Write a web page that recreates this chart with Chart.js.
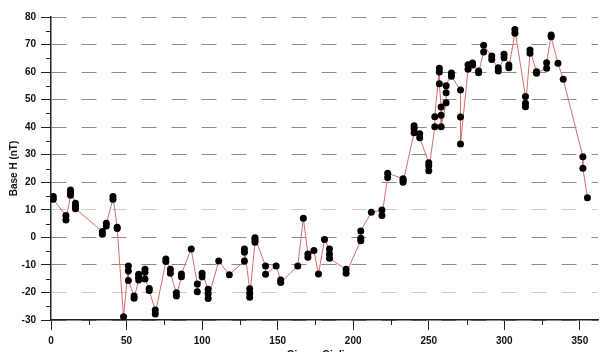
<!DOCTYPE html>
<html>
<head>
<meta charset="utf-8">
<script src="https://cdn.jsdelivr.net/npm/chart.js@4/dist/chart.umd.min.js"></script>
<style>
  html, body { margin: 0; padding: 0; background: #fff; overflow: hidden; }
  canvas { display: block; }
</style>
</head>
<body>
<canvas id="grafico" width="602" height="362"></canvas>
<script>
// giorno giuliano e valori di base H (nT)
const giorni = [
  1.5, 1.5, 9.9, 9.9, 12.9, 12.9, 12.9, 16.2, 16.2, 16.2,
  34, 34, 36.6, 36.6, 41, 41, 43.8, 43.8, 48,
  51.2, 51.2, 51.2, 55, 55, 58, 58, 58, 62.2, 62.2, 62.2,
  65, 65, 69, 69, 76, 76, 79, 79, 83, 83, 86.3, 86.3,
  92.8, 96.8, 96.8, 100, 100, 104, 104, 104, 111, 118,
  128, 128, 128, 131.5, 131.5, 131.5, 135, 135, 135,
  142, 142, 149, 152, 152, 163.3, 167, 170, 170, 174, 177, 181,
  184.3, 184.3, 184.3, 195.3, 195.3, 205, 205, 205, 212,
  219, 219, 222.8, 222.8, 233, 233, 233,
  240.3, 240.3, 240.3, 244, 244, 250, 250, 250, 254, 254,
  257, 257, 257, 258.2, 258.2, 258.2, 261.5, 261.5, 261.5,
  265, 265, 271, 271, 271, 276, 276, 279, 279, 283, 283,
  286.3, 286.3, 291.7, 291.7, 296, 296, 299.8, 299.8, 303, 303,
  307, 307, 314, 314, 314, 317, 317, 321.3, 321.3, 328, 328,
  331, 331, 335.5, 339, 352, 352, 355
];
const baseH = [
  14.8, 13.8, 7.9, 6.3, 15.3, 16.2, 17.2, 12.4, 11.4, 10.4,
  2.1, 1.1, 4.1, 5.1, 13.8, 14.8, 3.7, 3.2, -28.8,
  -10.4, -12.2, -15.7, -21.3, -22.1, -15.5, -14.5, -13.4, -11.6, -12.7, -15.1,
  -18.6, -19.3, -26.4, -27.8, -8.8, -7.9, -11.6, -13, -20.1, -21.3, -14.3, -13.3,
  -4.2, -16.9, -19.7, -14.3, -13, -18.8, -20.5, -22.2, -8.6, -13.6,
  -8.6, -5.4, -4.2, -18.7, -20.3, -21.7, -1.8, -0.9, -0.1,
  -10.4, -13.4, -10.4, -15.5, -16.4, -10.4, 6.9, -6, -7.2, -4.8, -13.3, -0.8,
  -4.2, -6, -7.6, -11.6, -13, -1.2, -0.3, 2.3, 9.1,
  9.9, 7.9, 21.7, 23.3, 21.3, 20.7, 20,
  38, 39.6, 40.5, 37.6, 36.2, 27.1, 26, 24.2, 40.2, 43.8,
  61.4, 60, 55.8, 47.3, 44.3, 40.2, 48.9, 52.5, 55,
  59.7, 58.5, 53.5, 43.7, 33.9, 61, 62.7, 63.3, 62.6, 60.4, 59.8,
  67.3, 69.7, 65.8, 64.6, 61.6, 60.4, 65.2, 66.5, 62.6, 61.6,
  74.1, 75.5, 51.1, 48.7, 47.4, 66.8, 68, 60.1, 59.6, 61.4, 63.4,
  73.5, 72.8, 63.2, 57.4, 29.3, 25.1, 14.4
];

// etichette degli assi
const xTicks = [0, 50, 100, 150, 200, 250, 300, 350];
const xMinor = [25, 75, 125, 175, 225, 275, 325];
const yTicks = [-30, -20, -10, 0, 10, 20, 30, 40, 50, 60, 70, 80];
const yMinor = [-25, -15, -5, 5, 15, 25, 35, 45, 55, 65, 75];
const griglieChiare = [10, -20];

const punti = giorni.map((g, i) => ({ x: g, y: baseH[i] }));

// tacche secondarie (più corte) sugli assi
const tacchePlugin = {
  id: 'tacche',
  afterDraw(chart) {
    const { ctx, scales: { x, y } } = chart;
    ctx.save();
    ctx.strokeStyle = '#222';
    ctx.lineWidth = 1;
    ctx.beginPath();
    xMinor.forEach(v => {
      const px = Math.round(x.getPixelForValue(v)) + 0.5;
      ctx.moveTo(px, y.bottom);
      ctx.lineTo(px, y.bottom + 5);
    });
    yMinor.forEach(v => {
      const py = Math.round(y.getPixelForValue(v)) + 0.5;
      ctx.moveTo(x.left - 5, py);
      ctx.lineTo(x.left, py);
    });
    ctx.stroke();
    ctx.restore();
  }
};

const fontEtichette = { family: '"Liberation Sans", Arial, sans-serif', size: 10, weight: 'bold' };

new Chart(document.getElementById('grafico').getContext('2d'), {
  type: 'scatter',
  data: {
    datasets: [{
      data: punti,
      showLine: true,
      borderColor: '#dc6a6a',
      borderWidth: 1,
      tension: 0,
      pointRadius: 3.5,
      pointBackgroundColor: '#000',
      pointBorderColor: '#000',
      pointBorderWidth: 0
    }]
  },
  options: {
    responsive: false,
    animation: false,
    layout: { padding: { top: 17, right: 0, left: 0, bottom: 0 } },
    plugins: { legend: { display: false }, tooltip: { enabled: false } },
    scales: {
      x: {
        type: 'linear',
        min: 0,
        max: 362,
        afterBuildTicks: s => { s.ticks = xTicks.map(v => ({ value: v })); },
        afterFit: s => { s.height = 42; },
        grid: { drawOnChartArea: false, tickLength: 10, color: '#222', tickColor: '#222' },
        border: { display: true, color: '#222', width: 1.5 },
        ticks: { color: '#111', font: fontEtichette, padding: 5, maxRotation: 0 },
        title: {
          display: true,
          text: 'Giorno Giuliano',
          color: '#111',
          font: fontEtichette,
          padding: { top: 0, bottom: 1 }
        }
      },
      y: {
        min: -30,
        max: 80,
        afterBuildTicks: s => { s.ticks = yTicks.map(v => ({ value: v })); },
        afterFit: s => { s.width = 51; },
        grid: {
          tickLength: 10,
          lineWidth: 1,
          color: c => griglieChiare.includes(c.tick.value) ? '#cccccc' : '#8a8a8a',
          tickColor: '#222'
        },
        border: { display: true, color: '#222', width: 1.5, dash: [15, 15] },
        ticks: { color: '#111', font: fontEtichette, padding: 5 },
        title: {
          display: true,
          text: 'Base H (nT)',
          color: '#111',
          font: fontEtichette,
          padding: { top: 8, bottom: 0 }
        }
      }
    }
  },
  plugins: [tacchePlugin]
});
</script>
</body>
</html>
